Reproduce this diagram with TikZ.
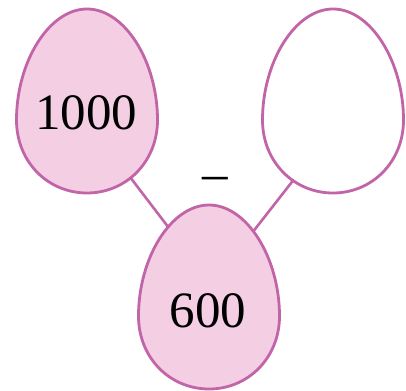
\documentclass[tikz,border=0pt]{standalone}
\usepackage{fontspec}
\setmainfont{Liberation Serif}
\usepackage{tikz}
\definecolor{eggline}{RGB}{194,100,168}
\definecolor{eggfill}{RGB}{244,207,228}

\tikzset{
  egg/.pic={
    \draw[pic actions] (70.5,0) .. controls (70.5,-58) and (38,-111) .. (0,-111)
      .. controls (-38,-111) and (-70.5,-58) .. (-70.5,0)
      .. controls (-70.5,42) and (-39,73) .. (0,73)
      .. controls (39,73) and (70.5,42) .. (70.5,0) -- cycle;
  }
}

\begin{document}
\begin{tikzpicture}[
  x=1pt, y=-1pt,
  shell/.style={draw=eggline, line width=2.8pt},
  full/.style={shell, fill=eggfill},
  empty/.style={shell, fill=white},
  num/.style={font=\fontsize{51}{54}\selectfont, inner sep=0pt},
  link/.style={draw=eggline, line width=2.6pt}
]
\useasboundingbox (0,0) rectangle (406,390);

% connectors
\coordinate (leftEnd) at (130,177);
\coordinate (rightEnd) at (295,178);
\coordinate (baseL) at (172,232);
\coordinate (baseR) at (252,233);
\draw[link] (leftEnd) -- (baseL);
\draw[link] (rightEnd) -- (baseR);

% eggs
\pic[full] (whole) at (87,120) {egg};
\pic[empty] (part) at (333,120) {egg};
\pic[full] (known) at (209,316) {egg};

\node[num] (total) at (86,113) {1000};
\node[num] (given) at (208,311) {600};
\node[num] (op) at (215,184) {--};
\end{tikzpicture}
\end{document}
